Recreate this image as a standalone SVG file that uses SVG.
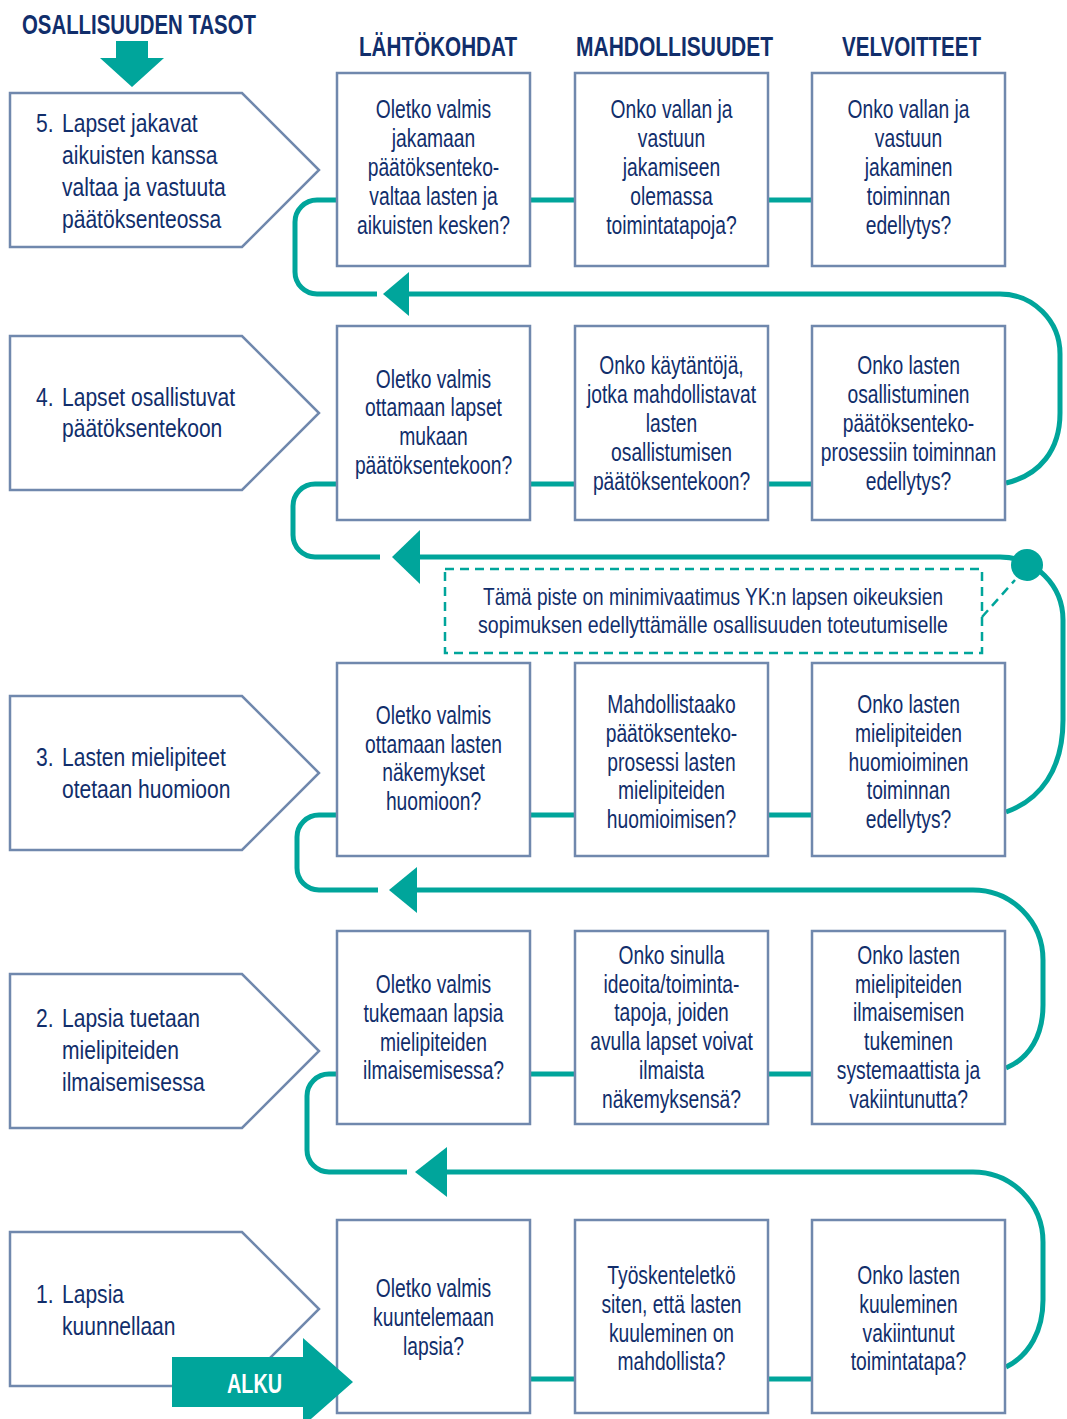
<svg xmlns="http://www.w3.org/2000/svg" width="1067" height="1419" viewBox="0 0 1067 1419">
<style>
.bg{fill:#ffffff}
.box{fill:#ffffff;stroke:#7088ad;stroke-width:2.5}
.pent{fill:#ffffff;stroke:#7088ad;stroke-width:2.5;stroke-linejoin:miter}
.ln{fill:none;stroke:#00a59b;stroke-width:5}
.teal{fill:#00a59b}
.dash{fill:none;stroke:#00a59b;stroke-width:2.5;stroke-dasharray:9 6}
.b{font-family:"Liberation Sans",Arial,sans-serif;font-size:25px;fill:#112e6b;text-anchor:middle}
.p{font-family:"Liberation Sans",Arial,sans-serif;font-size:26px;fill:#112e6b}
.h{font-family:"Liberation Sans",Arial,sans-serif;font-size:27px;font-weight:bold;fill:#112e6b}
.d{font-family:"Liberation Sans",Arial,sans-serif;font-size:24px;fill:#112e6b;text-anchor:middle}
.w{font-family:"Liberation Sans",Arial,sans-serif;font-size:27px;font-weight:bold;fill:#ffffff}
</style>
<rect class="bg" x="0" y="0" width="1067" height="1419"/>

<g id="headers">
<text class="h" x="22" y="34" textLength="234" lengthAdjust="spacingAndGlyphs">OSALLISUUDEN TASOT</text>
<text class="h" x="359" y="56" textLength="158" lengthAdjust="spacingAndGlyphs">LÄHTÖKOHDAT</text>
<text class="h" x="576" y="56" textLength="197" lengthAdjust="spacingAndGlyphs">MAHDOLLISUUDET</text>
<text class="h" x="842" y="56" textLength="139" lengthAdjust="spacingAndGlyphs">VELVOITTEET</text>
<polygon class="teal" points="116,41 148,41 148,58 164,58 132,87 100,58 116,58"/>
</g>

<g id="connectors">
<!-- row connectors -->
<path class="ln" d="M530 200 L575 200 M768 200 L812 200"/>
<path class="ln" d="M530 484 L575 484 M768 484 L812 484"/>
<path class="ln" d="M530 815 L575 815 M768 815 L812 815"/>
<path class="ln" d="M530 1074 L575 1074 M768 1074 L812 1074"/>
<path class="ln" d="M530 1379 L575 1379 M768 1379 L812 1379"/>
<!-- row 1 to row 2 -->
<path class="ln" d="M1006 1367 C1030 1355 1043 1330 1043 1300 L1043 1242 A70 70 0 0 0 973 1172 L445 1172"/>
<polygon class="teal" points="415,1172 447,1147 447,1197"/>
<path class="ln" d="M407 1172 L329 1172 A22 22 0 0 1 307 1150 L307 1096 A22 22 0 0 1 329 1074 L337 1074"/>
<!-- row 2 to row 3 -->
<path class="ln" d="M1006 1068 C1030 1058 1043 1035 1043 1005 L1043 960 A70 70 0 0 0 973 890 L415 890"/>
<polygon class="teal" points="389,890 417,867 417,913"/>
<path class="ln" d="M378 890 L319 890 A22 22 0 0 1 297 868 L297 837 A22 22 0 0 1 319 815 L337 815"/>
<!-- row 3 to row 4 -->
<path class="ln" d="M1006 812 C1040 800 1063 770 1063 720 L1063 620 A63 63 0 0 0 1000 557 L418 557"/>
<polygon class="teal" points="392,557 420,530 420,584"/>
<path class="ln" d="M380 557 L315 557 A22 22 0 0 1 293 535 L293 506 A22 22 0 0 1 315 484 L337 484"/>
<circle class="teal" cx="1027" cy="565" r="16"/>
<!-- row 4 to row 5 -->
<path class="ln" d="M1006 483 C1040 475 1060 450 1060 413 L1060 354 A60 60 0 0 0 1000 294 L407 294"/>
<polygon class="teal" points="383,294 409,272 409,316"/>
<path class="ln" d="M377 294 L317 294 A22 22 0 0 1 295 272 L295 222 A22 22 0 0 1 317 200 L337 200"/>
</g>

<g id="note">
<rect class="dash" x="445" y="569" width="537" height="84"/>
<path class="dash" d="M982 617 L1015 580"/>
<text class="d" x="713" y="605" textLength="460" lengthAdjust="spacingAndGlyphs">Tämä piste on minimivaatimus YK:n lapsen oikeuksien</text>
<text class="d" x="713" y="633" textLength="470" lengthAdjust="spacingAndGlyphs">sopimuksen edellyttämälle osallisuuden toteutumiselle</text>
</g>

<!-- Level pentagons -->
<g id="level5">
<polygon class="pent" points="10,93 242,93 319,170 242,247 10,247"/>
<text class="p" transform="translate(36 0) scale(0.81 1)"><tspan x="0" y="132">5.</tspan></text>
<text class="p" transform="translate(62 0) scale(0.81 1)"><tspan x="0" y="132">Lapset jakavat</tspan><tspan x="0" y="164">aikuisten kanssa</tspan><tspan x="0" y="196">valtaa ja vastuuta</tspan><tspan x="0" y="228">päätöksenteossa</tspan></text>
</g>
<g id="level4">
<polygon class="pent" points="10,336 242,336 319,413 242,490 10,490"/>
<text class="p" transform="translate(36 0) scale(0.81 1)"><tspan x="0" y="406">4.</tspan></text>
<text class="p" transform="translate(62 0) scale(0.81 1)"><tspan x="0" y="406">Lapset osallistuvat</tspan><tspan x="0" y="437">päätöksentekoon</tspan></text>
</g>
<g id="level3">
<polygon class="pent" points="10,696 242,696 319,773 242,850 10,850"/>
<text class="p" transform="translate(36 0) scale(0.81 1)"><tspan x="0" y="766">3.</tspan></text>
<text class="p" transform="translate(62 0) scale(0.81 1)"><tspan x="0" y="766">Lasten mielipiteet</tspan><tspan x="0" y="798">otetaan huomioon</tspan></text>
</g>
<g id="level2">
<polygon class="pent" points="10,974 242,974 319,1051 242,1128 10,1128"/>
<text class="p" transform="translate(36 0) scale(0.81 1)"><tspan x="0" y="1027">2.</tspan></text>
<text class="p" transform="translate(62 0) scale(0.81 1)"><tspan x="0" y="1027">Lapsia tuetaan</tspan><tspan x="0" y="1059">mielipiteiden</tspan><tspan x="0" y="1091">ilmaisemisessa</tspan></text>
</g>
<g id="level1">
<polygon class="pent" points="10,1232 242,1232 319,1309 242,1386 10,1386"/>
<text class="p" transform="translate(36 0) scale(0.81 1)"><tspan x="0" y="1303">1.</tspan></text>
<text class="p" transform="translate(62 0) scale(0.81 1)"><tspan x="0" y="1303">Lapsia</tspan><tspan x="0" y="1335">kuunnellaan</tspan></text>
</g>

<!-- Row 5 boxes -->
<g id="r5c1">
<rect class="box" x="337" y="73" width="193" height="193"/>
<text class="b" transform="translate(433.5 0) scale(0.77 1)"><tspan x="0" y="118">Oletko valmis</tspan><tspan x="0" y="147">jakamaan</tspan><tspan x="0" y="176">päätöksenteko-</tspan><tspan x="0" y="205">valtaa lasten ja</tspan><tspan x="0" y="234">aikuisten kesken?</tspan></text>
</g>
<g id="r5c2">
<rect class="box" x="575" y="73" width="193" height="193"/>
<text class="b" transform="translate(671.5 0) scale(0.77 1)"><tspan x="0" y="118">Onko vallan ja</tspan><tspan x="0" y="147">vastuun</tspan><tspan x="0" y="176">jakamiseen</tspan><tspan x="0" y="205">olemassa</tspan><tspan x="0" y="234">toimintatapoja?</tspan></text>
</g>
<g id="r5c3">
<rect class="box" x="812" y="73" width="193" height="193"/>
<text class="b" transform="translate(908.5 0) scale(0.77 1)"><tspan x="0" y="118">Onko vallan ja</tspan><tspan x="0" y="147">vastuun</tspan><tspan x="0" y="176">jakaminen</tspan><tspan x="0" y="205">toiminnan</tspan><tspan x="0" y="234">edellytys?</tspan></text>
</g>

<!-- Row 4 boxes -->
<g id="r4c1">
<rect class="box" x="337" y="326" width="193" height="194"/>
<text class="b" transform="translate(433.5 0) scale(0.77 1)"><tspan x="0" y="388">Oletko valmis</tspan><tspan x="0" y="416">ottamaan lapset</tspan><tspan x="0" y="445">mukaan</tspan><tspan x="0" y="474">päätöksentekoon?</tspan></text>
</g>
<g id="r4c2">
<rect class="box" x="575" y="326" width="193" height="194"/>
<text class="b" transform="translate(671.5 0) scale(0.77 1)"><tspan x="0" y="374">Onko käytäntöjä,</tspan><tspan x="0" y="403">jotka mahdollistavat</tspan><tspan x="0" y="432">lasten</tspan><tspan x="0" y="461">osallistumisen</tspan><tspan x="0" y="490">päätöksentekoon?</tspan></text>
</g>
<g id="r4c3">
<rect class="box" x="812" y="326" width="193" height="194"/>
<text class="b" transform="translate(908.5 0) scale(0.77 1)"><tspan x="0" y="374">Onko lasten</tspan><tspan x="0" y="403">osallistuminen</tspan><tspan x="0" y="432">päätöksenteko-</tspan><tspan x="0" y="461">prosessiin toiminnan</tspan><tspan x="0" y="490">edellytys?</tspan></text>
</g>

<!-- Row 3 boxes -->
<g id="r3c1">
<rect class="box" x="337" y="663" width="193" height="193"/>
<text class="b" transform="translate(433.5 0) scale(0.77 1)"><tspan x="0" y="724">Oletko valmis</tspan><tspan x="0" y="753">ottamaan lasten</tspan><tspan x="0" y="781">näkemykset</tspan><tspan x="0" y="810">huomioon?</tspan></text>
</g>
<g id="r3c2">
<rect class="box" x="575" y="663" width="193" height="193"/>
<text class="b" transform="translate(671.5 0) scale(0.77 1)"><tspan x="0" y="713">Mahdollistaako</tspan><tspan x="0" y="742">päätöksenteko-</tspan><tspan x="0" y="771">prosessi lasten</tspan><tspan x="0" y="799">mielipiteiden</tspan><tspan x="0" y="828">huomioimisen?</tspan></text>
</g>
<g id="r3c3">
<rect class="box" x="812" y="663" width="193" height="193"/>
<text class="b" transform="translate(908.5 0) scale(0.77 1)"><tspan x="0" y="713">Onko lasten</tspan><tspan x="0" y="742">mielipiteiden</tspan><tspan x="0" y="771">huomioiminen</tspan><tspan x="0" y="799">toiminnan</tspan><tspan x="0" y="828">edellytys?</tspan></text>
</g>

<!-- Row 2 boxes -->
<g id="r2c1">
<rect class="box" x="337" y="931" width="193" height="193"/>
<text class="b" transform="translate(433.5 0) scale(0.77 1)"><tspan x="0" y="993">Oletko valmis</tspan><tspan x="0" y="1022">tukemaan lapsia</tspan><tspan x="0" y="1051">mielipiteiden</tspan><tspan x="0" y="1079">ilmaisemisessa?</tspan></text>
</g>
<g id="r2c2">
<rect class="box" x="575" y="931" width="193" height="193"/>
<text class="b" transform="translate(671.5 0) scale(0.77 1)"><tspan x="0" y="964">Onko sinulla</tspan><tspan x="0" y="993">ideoita/toiminta-</tspan><tspan x="0" y="1021">tapoja, joiden</tspan><tspan x="0" y="1050">avulla lapset voivat</tspan><tspan x="0" y="1079">ilmaista</tspan><tspan x="0" y="1108">näkemyksensä?</tspan></text>
</g>
<g id="r2c3">
<rect class="box" x="812" y="931" width="193" height="193"/>
<text class="b" transform="translate(908.5 0) scale(0.77 1)"><tspan x="0" y="964">Onko lasten</tspan><tspan x="0" y="993">mielipiteiden</tspan><tspan x="0" y="1021">ilmaisemisen</tspan><tspan x="0" y="1050">tukeminen</tspan><tspan x="0" y="1079">systemaattista ja</tspan><tspan x="0" y="1108">vakiintunutta?</tspan></text>
</g>

<!-- Row 1 boxes -->
<g id="r1c1">
<rect class="box" x="337" y="1220" width="193" height="193"/>
<text class="b" transform="translate(433.5 0) scale(0.77 1)"><tspan x="0" y="1297">Oletko valmis</tspan><tspan x="0" y="1326">kuuntelemaan</tspan><tspan x="0" y="1355">lapsia?</tspan></text>
</g>
<g id="r1c2">
<rect class="box" x="575" y="1220" width="193" height="193"/>
<text class="b" transform="translate(671.5 0) scale(0.77 1)"><tspan x="0" y="1284">Työskenteletkö</tspan><tspan x="0" y="1313">siten, että lasten</tspan><tspan x="0" y="1342">kuuleminen on</tspan><tspan x="0" y="1370">mahdollista?</tspan></text>
</g>
<g id="r1c3">
<rect class="box" x="812" y="1220" width="193" height="193"/>
<text class="b" transform="translate(908.5 0) scale(0.77 1)"><tspan x="0" y="1284">Onko lasten</tspan><tspan x="0" y="1313">kuuleminen</tspan><tspan x="0" y="1342">vakiintunut</tspan><tspan x="0" y="1370">toimintatapa?</tspan></text>
</g>

<g id="start">
<polygon class="teal" points="172,1357 303,1357 303,1338 353,1382 303,1426 303,1407 172,1407"/>
<text class="w" x="227" y="1393" textLength="55" lengthAdjust="spacingAndGlyphs">ALKU</text>
</g>
</svg>
